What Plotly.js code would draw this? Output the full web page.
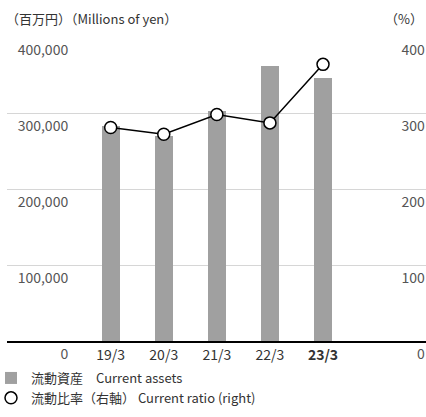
<!DOCTYPE html>
<html>
<head>
<meta charset="utf-8">
<script src="https://cdn.plot.ly/plotly-3.0.1.min.js"></script>
<style>html,body{margin:0;padding:0;background:#fff;}#chart{width:426px;height:417px;}</style>
</head>
<body>
<div id="chart"></div>
<script>
// Data
const categories = ['19/3', '20/3', '21/3', '22/3', '23/3'];
const tickLabels = ['19/3', '20/3', '21/3', '22/3', '<b>23/3</b>'];
const currentAssets = [283000, 270000, 302000, 362000, 346000]; // millions of yen
const currentRatio = [281, 272, 298, 287, 364]; // %
const assetsName = '流動資産　Current assets';
const ratioName = '流動比率（右軸） Current ratio (right)';
const leftTitle = '（百万円）（Millions of yen）';
const rightTitle = '（%）';

const FONT = '"Noto Sans CJK JP", "Noto Sans", sans-serif';

const traces = [
  {
    type: 'bar', x: categories, y: currentAssets, name: assetsName,
    marker: {color: '#a0a0a0'}, width: 0.34, xaxis: 'x', yaxis: 'y'
  },
  {
    type: 'scatter', mode: 'lines', x: categories, y: currentRatio, showlegend: false,
    line: {color: '#000', width: 1.5}, xaxis: 'x', yaxis: 'y2'
  },
  {
    type: 'scatter', mode: 'markers', x: categories, y: currentRatio, name: ratioName,
    marker: {color: '#fff', size: 12, line: {color: '#000', width: 1.5}}, xaxis: 'x', yaxis: 'y2'
  }
];

const PH = 304, PW = 419;
const layout = {
  width: 426, height: 417,
  margin: {l: 7, r: 0, t: 37, b: 76, autoexpand: false},
  paper_bgcolor: '#fff', plot_bgcolor: '#fff',
  font: {family: FONT, color: '#333'},
  showlegend: true,
  hovermode: false,
  bargap: 0,
  xaxis: {
    type: 'category', range: [-1.953, 5.94],
    tickvals: categories, ticktext: tickLabels,
    showgrid: false, zeroline: false,
    showline: true, linecolor: '#000', linewidth: 2,
    ticks: '', tickfont: {size: 14, color: '#333'}
  },
  yaxis: {
    range: [0, 400000], dtick: 100000, tickformat: ',',
    anchor: 'free', position: 0.146, side: 'left',
    showgrid: true, gridcolor: '#d6d6d6', gridwidth: 1,
    zeroline: false, showline: false, ticks: '',
    tickfont: {size: 14, color: '#555'},
    ticklabelshift: 13
  },
  yaxis2: {
    range: [0, 400], dtick: 100, overlaying: 'y',
    anchor: 'free', position: 0.997, side: 'left',
    showgrid: false, zeroline: false, showline: false, ticks: '',
    tickfont: {size: 14, color: '#555'},
    ticklabelshift: 13
  },
  legend: {
    orientation: 'v', xref: 'paper', yref: 'paper',
    x: -16 / PW, xanchor: 'left', y: -(363 - 341) / PH, yanchor: 'top',
    font: {size: 13, color: '#333'}, itemwidth: 30,
    bgcolor: 'rgba(0,0,0,0)'
  },
  annotations: [
    {xref: 'paper', yref: 'paper', x: 0, xanchor: 'left', xshift: -3, y: 1 + 19 / PH, yanchor: 'middle',
     text: leftTitle, showarrow: false, font: {size: 13, color: '#333'}},
    {xref: 'paper', yref: 'paper', x: 1, xanchor: 'right', xshift: -1, y: 1 + 19 / PH, yanchor: 'middle',
     text: rightTitle, showarrow: false, font: {size: 13, color: '#333'}}
  ]
};

Plotly.newPlot('chart', traces, layout, {displayModeBar: false, staticPlot: true});
</script>
</body>
</html>
